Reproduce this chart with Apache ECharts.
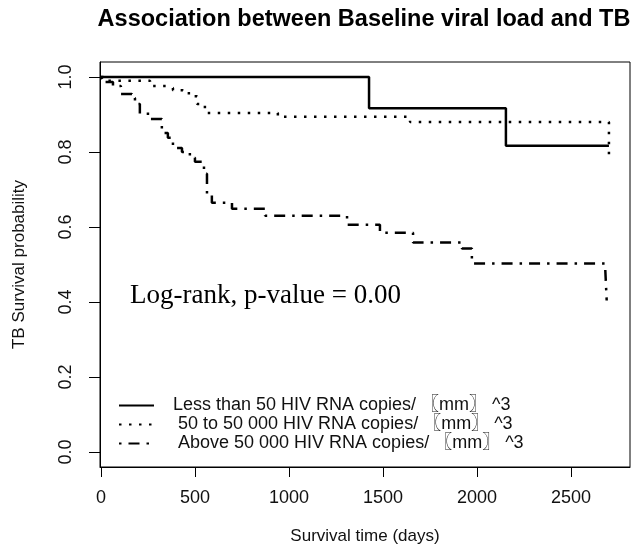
<!DOCTYPE html>
<html>
<head>
<meta charset="utf-8">
<script src="https://cdn.jsdelivr.net/npm/echarts@6/dist/echarts.min.js"></script>
<style>
  html, body { margin: 0; padding: 0; background: #fff; }
  #chart { width: 634px; height: 551px; }
</style>
</head>
<body>
<div id="chart"></div>
<script>
const xTicks = [0, 500, 1000, 1500, 2000, 2500]
const yTicks = [0, 0.2, 0.4, 0.6, 0.8, 1.0]

const groupNames = [
  'Less than 50 HIV RNA copies/ 〖mm〗 ^3',
  ' 50 to 50 000 HIV RNA copies/ 〖mm〗 ^3',
  ' Above 50 000 HIV RNA copies/ 〖mm〗 ^3'
]

// Kaplan-Meier steps: [day, survival from that day on]
const lowLoad = [[0, 1], [1426, 0.917], [2154, 0.817], [2702, 0.817]]
const midLoad = [
  [0, 1], [8, 0.99], [261, 0.976], [351, 0.971], [383, 0.965], [436, 0.957],
  [484, 0.949], [511, 0.928], [553, 0.904], [941, 0.894], [1644, 0.88], [2702, 0.79]
]
const highLoad = [
  [0, 1], [16, 0.987], [64, 0.976], [106, 0.955], [165, 0.944], [181, 0.928],
  [207, 0.902], [261, 0.888], [324, 0.851], [356, 0.838], [383, 0.811], [431, 0.8],
  [473, 0.785], [500, 0.774], [548, 0.742], [564, 0.684], [590, 0.665], [697, 0.649],
  [873, 0.63], [1309, 0.606], [1484, 0.585], [1660, 0.559], [1920, 0.543],
  [1973, 0.503], [2681, 0.503], [2690, 0.404]
]

const lineTypes = ['solid', [2.5, 7.5], [2.5, 7, 11, 7]]

const font = '"Liberation Sans", Arial, "Noto Sans CJK SC", sans-serif'
const textColor = '#111'

const chart = echarts.init(document.getElementById('chart'))

const series = [lowLoad, midLoad, highLoad].map((data, i) => ({
  name: groupNames[i],
  type: 'line',
  step: 'end',
  symbol: 'none',
  data: data,
  lineStyle: { color: '#000', width: 2.5, type: lineTypes[i], cap: 'butt' },
  itemStyle: { color: '#000' }
}))

chart.setOption({
  animation: false,
  textStyle: { fontFamily: font, color: textColor },
  title: {
    text: 'Association between Baseline viral load and TB',
    left: 364,
    top: 8,
    padding: 0,
    textAlign: 'center',
    textStyle: { fontFamily: font, fontSize: 23.5, fontWeight: 'bold', color: '#000' }
  },
  grid: {
    left: 100,
    right: 4,
    top: 62,
    bottom: 84,
    show: true,
    borderColor: '#000',
    borderWidth: 1
  },
  legend: {
    orient: 'vertical',
    left: 118,
    top: 396,
    padding: 0,
    itemWidth: 35,
    itemHeight: 12,
    itemGap: 0,
    data: groupNames,
    itemStyle: { color: 'rgba(0,0,0,0)', borderWidth: 0 },
    textStyle: {
      fontFamily: font,
      fontSize: 18,
      lineHeight: 19,
      color: textColor,
      padding: [0, 0, 0, 14]
    }
  },
  xAxis: {
    type: 'value',
    min: -5,
    max: 2814,
    name: 'Survival time (days)',
    nameLocation: 'middle',
    nameGap: 61,
    nameTextStyle: { fontFamily: font, fontSize: 17, color: textColor },
    axisLine: { show: true, onZero: false, lineStyle: { color: '#000' } },
    axisTick: { show: true, length: 10, customValues: xTicks, lineStyle: { color: '#000' } },
    axisLabel: {
      customValues: xTicks,
      margin: 22,
      fontSize: 18,
      color: textColor,
      fontFamily: font,
      formatter: v => String(v)
    },
    splitLine: { show: false }
  },
  yAxis: {
    type: 'value',
    min: -0.04,
    max: 1.04,
    name: 'TB Survival probability',
    nameLocation: 'middle',
    nameRotate: 90,
    nameGap: 72,
    nameTextStyle: { fontFamily: font, fontSize: 17, color: textColor },
    axisLine: { show: true, onZero: false, lineStyle: { color: '#000' } },
    axisTick: { show: true, length: 11, customValues: yTicks, lineStyle: { color: '#000' } },
    axisLabel: {
      customValues: yTicks,
      rotate: 90,
      margin: 25,
      fontSize: 18,
      color: textColor,
      fontFamily: font,
      formatter: v => v.toFixed(1)
    },
    splitLine: { show: false }
  },
  graphic: [{
    type: 'text',
    left: 130,
    top: 282,
    style: {
      text: 'Log-rank, p-value = 0.00',
      font: '27px "Liberation Serif", "Times New Roman", serif',
      fill: '#000'
    }
  }],
  series: series
})
</script>
</body>
</html>
